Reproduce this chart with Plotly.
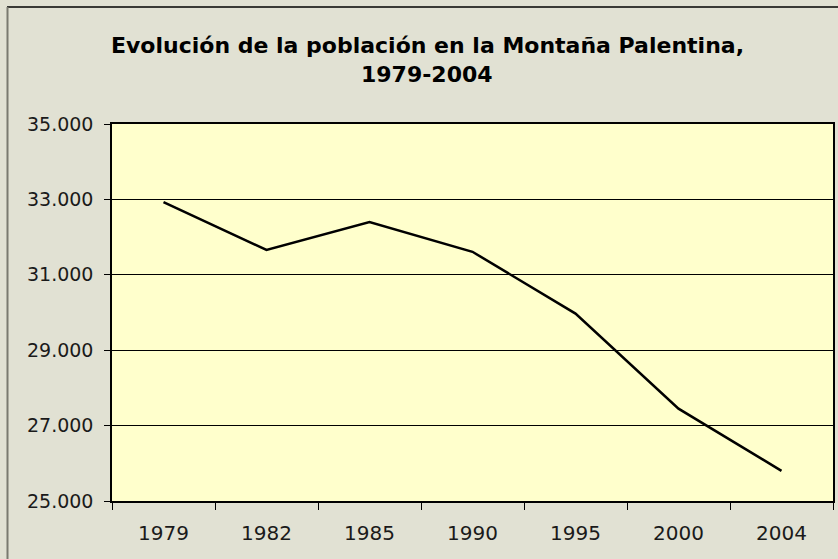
import plotly.graph_objects as go

years = ["1979", "1982", "1985", "1990", "1995", "2000", "2004"]
population = [32930, 31660, 32400, 31610, 29970, 27450, 25800]
y_ticks = [25000, 27000, 29000, 31000, 33000, 35000]
y_tick_labels = ["25.000", "27.000", "29.000", "31.000", "33.000", "35.000"]
title_lines = ["Evolución de la población en la Montaña Palentina,", "1979-2004"]

W, H = 838, 559
ml, mr, mt, mb = 112, 5, 124, 58
pw, ph = W - ml - mr, H - mt - mb
BG = "#E1E1D3"

def px_to_paper_x(px):
    return (px - ml) / pw

def px_to_paper_y(py):
    return (H - mb - py) / ph

fig = go.Figure()
fig.add_trace(go.Scatter(
    x=years, y=population, mode="lines",
    line=dict(color="#000000", width=2.5),
    hoverinfo="skip", showlegend=False,
))

font_family = "DejaVu Sans"

fig.update_layout(
    width=W, height=H,
    margin=dict(l=ml, r=mr, t=mt, b=mb, autoexpand=False),
    paper_bgcolor=BG,
    plot_bgcolor="#FFFFCC",
    showlegend=False,
    font=dict(family=font_family, color="#000000", size=20),
    xaxis=dict(
        type="category",
        range=[-0.5, len(years) - 0.5],
        tickson="boundaries",
        ticks="outside", ticklen=7, tickcolor="#000000", tickwidth=1,
        showline=True, linecolor="#000000", linewidth=1.5, mirror=True,
        showgrid=False,
        tickfont=dict(family=font_family, size=20, color="#1A1A1A"),
        ticklabelstandoff=13,
        automargin=False,
        fixedrange=True,
    ),
    yaxis=dict(
        range=[25000, 35000],
        tickvals=y_ticks, ticktext=y_tick_labels,
        ticks="outside", ticklen=6, tickcolor="#000000", tickwidth=1,
        showline=True, linecolor="#000000", linewidth=1.5, mirror=True,
        showgrid=True, gridcolor="#000000", gridwidth=1,
        zeroline=False,
        tickfont=dict(family=font_family, size=19, color="#1A1A1A"),
        ticklabelstandoff=7,
        automargin=False,
        fixedrange=True,
    ),
    annotations=[
        dict(text="<b>%s</b>" % title_lines[0], xref="paper", yref="paper",
             x=px_to_paper_x(427), y=px_to_paper_y(45), xanchor="center", yanchor="middle",
             showarrow=False, font=dict(family=font_family, size=22, color="#000000")),
        dict(text="<b>%s</b>" % title_lines[1], xref="paper", yref="paper",
             x=px_to_paper_x(427), y=px_to_paper_y(74), xanchor="center", yanchor="middle",
             showarrow=False, font=dict(family=font_family, size=22, color="#000000")),
    ],
    shapes=[
        dict(type="line", xref="paper", yref="paper",
             x0=px_to_paper_x(7), x1=px_to_paper_x(W + 10),
             y0=px_to_paper_y(7), y1=px_to_paper_y(7),
             line=dict(color="#000000", width=1.5)),
        dict(type="line", xref="paper", yref="paper",
             x0=px_to_paper_x(7.5), x1=px_to_paper_x(7.5),
             y0=px_to_paper_y(7), y1=px_to_paper_y(H + 10),
             line=dict(color="#7A7A70", width=2)),
    ],
)

fig.write_html(
    "out.html",
    config={"displayModeBar": False},
    post_script="document.body.style.margin='0';document.body.style.background='%s';" % BG,
)
